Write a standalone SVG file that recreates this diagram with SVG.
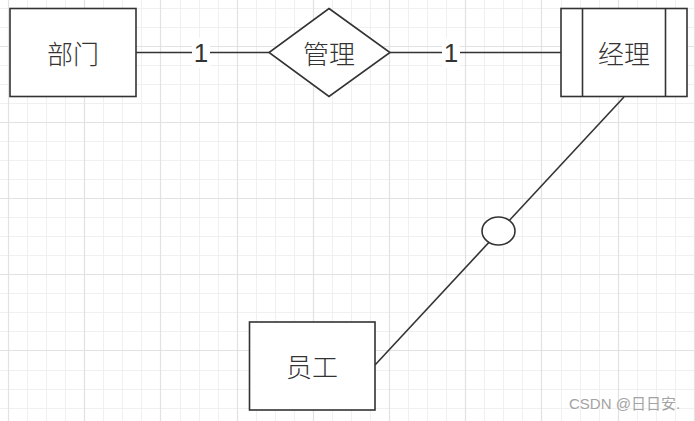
<svg xmlns="http://www.w3.org/2000/svg" width="695" height="421" viewBox="0 0 695 421">
<style>
.minor{stroke:#f0f0f0;stroke-width:1;fill:none}
.major{stroke:#e2e2e2;stroke-width:1.2;fill:none}
.shape{fill:#ffffff;stroke:#333333;stroke-width:1.6}
.edge{stroke:#333333;stroke-width:1.6;fill:none}
.lbl{font-family:"Noto Sans CJK SC","Liberation Sans",sans-serif;font-size:26px;font-weight:300;fill:#333333;text-anchor:middle;dominant-baseline:central}
.num{font-family:"Liberation Sans","Noto Sans",sans-serif;font-size:26px;fill:#333333;text-anchor:middle;dominant-baseline:central}
.wm{font-family:"Liberation Sans","Noto Sans CJK SC",sans-serif;font-size:15px;fill:#a3a3a3}
</style>
<rect x="0" y="0" width="695" height="421" fill="#ffffff"/>
<g id="grid">
<path class="minor" d="M27.5 0V421M46.5 0V421M65.5 0V421M103.5 0V421M122.5 0V421M141.5 0V421M180.5 0V421M199.5 0V421M218.5 0V421M256.5 0V421M275.5 0V421M294.5 0V421M332.5 0V421M351.5 0V421M370.5 0V421M408.5 0V421M427.5 0V421M446.5 0V421M484.5 0V421M503.5 0V421M522.5 0V421M561.5 0V421M580.5 0V421M599.5 0V421M637.5 0V421M656.5 0V421M675.5 0V421"/>
<path class="minor" d="M0 8.5H695M0 27.5H695M0 65.5H695M0 84.5H695M0 103.5H695M0 141.5H695M0 160.5H695M0 179.5H695M0 217.5H695M0 236.5H695M0 255.5H695M0 293.5H695M0 312.5H695M0 331.5H695M0 370.5H695M0 389.5H695M0 408.5H695"/>
<path class="major" d="M8.5 0V421M84.5 0V421M160.5 0V421M237.5 0V421M313.5 0V421M389.5 0V421M465.5 0V421M541.5 0V421M618.5 0V421M694.5 0V421"/>
<path class="major" d="M0 46.5H695M0 122.5H695M0 198.5H695M0 274.5H695M0 350.5H695"/>
</g>
<g id="connectors">
<line class="edge" x1="136" y1="52.5" x2="269" y2="52.5"/>
<rect x="192" y="38" width="18" height="30" fill="#ffffff"/>
<text class="num" x="201" y="53">1</text>
<line class="edge" x1="390" y1="52.5" x2="561" y2="52.5"/>
<rect x="442" y="38" width="18" height="30" fill="#ffffff"/>
<text class="num" x="451" y="53">1</text>
<line class="edge" x1="624" y1="97" x2="375" y2="365"/>
</g>
<g id="dept">
<rect class="shape" x="10" y="8.5" width="126" height="88"/>
<text class="lbl" x="73" y="52">部门</text>
</g>
<g id="manage">
<polygon class="shape" points="329,8.5 390,52.5 329,96.5 269,52.5"/>
<text class="lbl" x="329" y="52">管理</text>
</g>
<g id="manager">
<rect class="shape" x="561" y="8.5" width="126" height="88"/>
<line class="edge" x1="582.5" y1="8.5" x2="582.5" y2="96.5"/>
<line class="edge" x1="665.5" y1="8.5" x2="665.5" y2="96.5"/>
<text class="lbl" x="624" y="52">经理</text>
</g>
<g id="circle">
<ellipse class="shape" cx="498.5" cy="231" rx="16.5" ry="14"/>
</g>
<g id="staff">
<rect class="shape" x="249.5" y="322" width="125.5" height="88"/>
<text class="lbl" x="312" y="365">员工</text>
</g>
<text class="wm" x="569" y="409">CSDN @日日安.</text>
</svg>
